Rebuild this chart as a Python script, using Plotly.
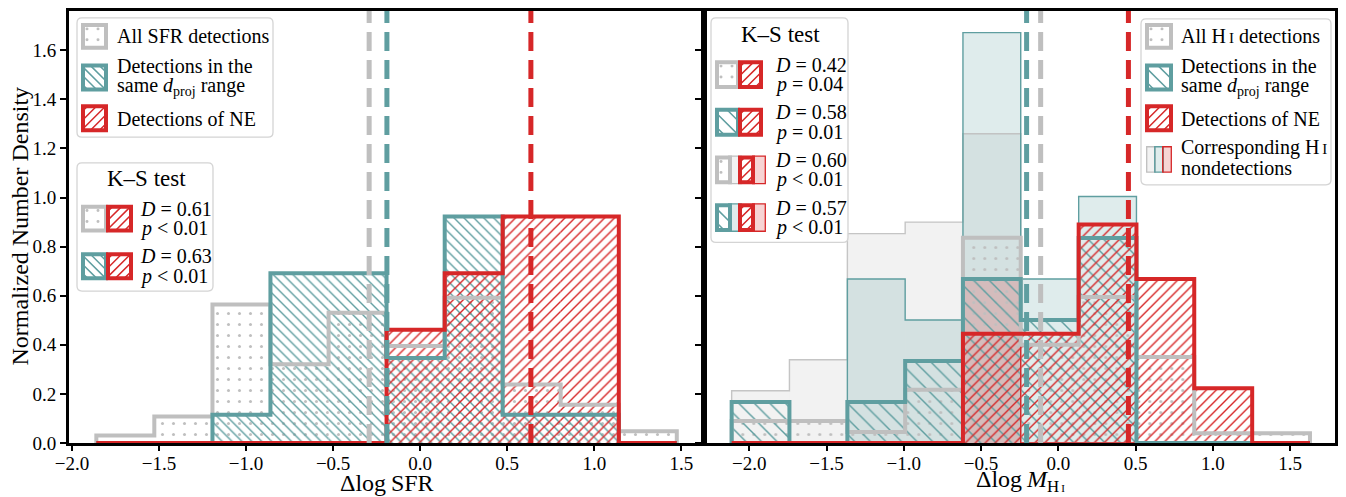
import plotly.graph_objects as go

# ---------------------------------------------------------------- data
sfr_bin_edges = [-1.860, -1.527, -1.193, -0.860, -0.526, -0.193, 0.141, 0.474, 0.807, 1.141, 1.474]
sfr_all_det = [0.031, 0.108, 0.564, 0.321, 0.531, 0.395, 0.592, 0.238, 0.156, 0.048]
sfr_same_det = [0.0, 0.0, 0.115, 0.692, 0.692, 0.346, 0.923, 0.115, 0.115, 0.0]
sfr_ne_det = [0.0, 0.0, 0.0, 0.0, 0.0, 0.461, 0.692, 0.923, 0.923, 0.0]
sfr_medians = [-0.293, -0.191, 0.636]          # all, same d_proj, NE

hi_bin_edges = [-2.114, -1.740, -1.365, -0.991, -0.617, -0.243, 0.132, 0.506, 0.880, 1.255, 1.629]
hi_all_det = [0.090, 0.090, 0.045, 0.217, 0.836, 0.400, 0.595, 0.350, 0.040, 0.040]
hi_same_det = [0.167, 0.0, 0.167, 0.334, 0.668, 0.501, 0.835, 0.0, 0.0, 0.0]
hi_ne_det = [0.0, 0.0, 0.0, 0.0, 0.445, 0.445, 0.890, 0.668, 0.223, 0.0]
hi_all_nondet = [0.213, 0.339, 0.853, 0.900, 1.260, 0.0, 0.0, 0.0, 0.0, 0.0]
hi_same_nondet = [0.0, 0.0, 0.668, 0.501, 1.672, 0.668, 1.004, 0.0, 0.0, 0.0]
hi_ne_nondet = [0.0, 0.0, 0.0, 0.0, 0.668, 0.0, 0.0, 0.0, 0.0, 0.0]
hi_medians = [-0.114, -0.205, 0.454]           # all, same d_proj, NE

ks_sfr_D = ["0.61", "0.63"]
ks_sfr_p = ["&lt; 0.01", "&lt; 0.01"]
ks_hi_D = ["0.42", "0.58", "0.60", "0.57"]
ks_hi_p = ["= 0.04", "= 0.01", "&lt; 0.01", "&lt; 0.01"]

y_tick_vals = [0.0, 0.2, 0.4, 0.6, 0.8, 1.0, 1.2, 1.4, 1.6]
x_tick_vals = [-2.0, -1.5, -1.0, -0.5, 0.0, 0.5, 1.0, 1.5]

# ---------------------------------------------------------------- style
FONT = "Liberation Serif"
GREY, TEAL, RED = "#bfbfbf", "#5f9ea0", "#d62728"


def rgba(h, a):
    h = h.lstrip("#")
    return "rgba(%d,%d,%d,%s)" % (int(h[0:2], 16), int(h[2:4], 16), int(h[4:6], 16), a)


W, H = 1346, 497
PL, PR, PT, PB = 69, 1335, 8, 443
SPLIT = (704.3 - PL) / (PR - PL)
YMAX = 1.76


def P(x, y):
    return (x - PL) / (PR - PL), (PB - y) / (PB - PT)


def fmt(v):
    s = "%.1f" % abs(v)
    return ("\u2212" + s) if v < 0 else s


fig = go.Figure()


def centers_widths(edges):
    c = [(edges[i] + edges[i + 1]) / 2 for i in range(len(edges) - 1)]
    w = [edges[i + 1] - edges[i] for i in range(len(edges) - 1)]
    return c, w


def step_xy(edges, h):
    xs, ys = [edges[0]], [0.0]
    for i, v in enumerate(h):
        xs += [edges[i], edges[i + 1]]
        ys += [v, v]
    xs.append(edges[-1])
    ys.append(0.0)
    return xs, ys


def hatch_bar(edges, h, color, shape, size, sol, xa, ya):
    c, w = centers_widths(edges)
    fig.add_trace(go.Bar(
        x=c, y=h, width=w, xaxis=xa, yaxis=ya, hoverinfo="skip",
        marker=dict(color="rgba(0,0,0,0)", line=dict(width=0),
                    pattern=dict(shape=shape, fgcolor=color, bgcolor="rgba(0,0,0,0)",
                                 fgopacity=1, size=size, solidity=sol, fillmode="overlay"))))


def fill_bar(edges, h, color, xa, ya):
    c, w = centers_widths(edges)
    fig.add_trace(go.Bar(x=c, y=h, width=w, xaxis=xa, yaxis=ya, hoverinfo="skip",
                         marker=dict(color=rgba(color, 0.2), line=dict(width=0))))


def outline(edges, h, color, width, xa, ya):
    xs, ys = step_xy(edges, h)
    fig.add_trace(go.Scatter(x=xs, y=ys, mode="lines", xaxis=xa, yaxis=ya, hoverinfo="skip",
                             line=dict(color=color, width=width)))


# ---- left panel (SFR)
hatch_bar(sfr_bin_edges, sfr_all_det, GREY, ".", 11, 0.06, "x", "y")
hatch_bar(sfr_bin_edges, sfr_same_det, TEAL, "\\", 7, 0.2, "x", "y")
hatch_bar(sfr_bin_edges, sfr_ne_det, RED, "/", 7, 0.2, "x", "y")
# ---- right panel (HI)
fill_bar(hi_bin_edges, hi_all_nondet, GREY, "x2", "y2")
fill_bar(hi_bin_edges, hi_same_nondet, TEAL, "x2", "y2")
fill_bar(hi_bin_edges, hi_ne_nondet, RED, "x2", "y2")
hatch_bar(hi_bin_edges, hi_all_det, GREY, ".", 11, 0.06, "x2", "y2")
hatch_bar(hi_bin_edges, hi_same_det, TEAL, "\\", 11, 0.13, "x2", "y2")
hatch_bar(hi_bin_edges, hi_ne_det, RED, "/", 7, 0.2, "x2", "y2")

outline(sfr_bin_edges, sfr_all_det, GREY, 4, "x", "y")
outline(sfr_bin_edges, sfr_same_det, TEAL, 4, "x", "y")
outline(sfr_bin_edges, sfr_ne_det, RED, 4, "x", "y")
outline(hi_bin_edges, hi_all_nondet, rgba(GREY, 0.9), 1.4, "x2", "y2")
outline(hi_bin_edges, hi_same_nondet, TEAL, 1.4, "x2", "y2")
outline(hi_bin_edges, hi_ne_nondet, RED, 1.4, "x2", "y2")
outline(hi_bin_edges, hi_all_det, GREY, 4, "x2", "y2")
outline(hi_bin_edges, hi_same_det, TEAL, 4, "x2", "y2")
outline(hi_bin_edges, hi_ne_det, RED, 4, "x2", "y2")

shapes = []
# median dashed lines
for med, col in zip(sfr_medians, [GREY, TEAL, RED]):
    shapes.append(dict(type="line", xref="x", yref="y domain", x0=med, x1=med, y0=0, y1=1,
                       line=dict(color=col, width=5, dash="19px,9px"), layer="above"))
for med, col in zip(hi_medians, [GREY, TEAL, RED]):
    shapes.append(dict(type="line", xref="x2", yref="y2 domain", x0=med, x1=med, y0=0, y1=1,
                       line=dict(color=col, width=5, dash="19px,9px"), layer="above"))

annotations = []


def text(x, y, s, size=20, anchor="left"):
    X, Y = P(x, y)
    annotations.append(dict(x=X, y=Y, xref="paper", yref="paper", text=s, showarrow=False,
                            xanchor=anchor, yanchor="middle",
                            font=dict(family=FONT, size=size, color="black")))


def box(x0, y0, x1, y1, r=5):
    pts = [("M", x0 + r, y0), ("L", x1 - r, y0), ("Q", x1, y0, x1, y0 + r), ("L", x1, y1 - r),
           ("Q", x1, y1, x1 - r, y1), ("L", x0 + r, y1), ("Q", x0, y1, x0, y1 - r),
           ("L", x0, y0 + r), ("Q", x0, y0, x0 + r, y0)]
    s = ""
    for p in pts:
        if p[0] == "Q":
            a = P(p[1], p[2]); b = P(p[3], p[4])
            s += "Q%.5f,%.5f %.5f,%.5f" % (a[0], a[1], b[0], b[1])
        else:
            a = P(p[1], p[2])
            s += "%s%.5f,%.5f" % (p[0], a[0], a[1])
    s += "Z"
    shapes.append(dict(type="path", path=s, xref="paper", yref="paper", layer="above",
                       fillcolor="rgba(255,255,255,0.85)", line=dict(color="#d4d4d4", width=1.3)))


def rect(x0, y0, x1, y1, line_col, lw, fill="rgba(0,0,0,0)"):
    a = P(x0, y0); b = P(x1, y1)
    shapes.append(dict(type="rect", xref="paper", yref="paper", x0=a[0], y0=b[1], x1=b[0], y1=a[1],
                       line=dict(color=line_col, width=lw), fillcolor=fill, layer="above"))


def hatch_lines(x0, y0, x1, y1, kind, sp, col):
    segs = []
    if kind == "/":
        c = x0 + y0 + sp / 2
        while c < x1 + y1:
            xa = max(x0, c - y1); xb = min(x1, c - y0)
            if xb > xa:
                segs.append((xa, c - xa, xb, c - xb))
            c += sp
    else:
        c = x0 - y1 + sp / 2
        while c < x1 - y0:
            xa = max(x0, c + y0); xb = min(x1, c + y1)
            if xb > xa:
                segs.append((xa, xa - c, xb, xb - c))
            c += sp
    s = ""
    for (xa, ya, xb, yb) in segs:
        a = P(xa, ya); b = P(xb, yb)
        s += "M%.5f,%.5fL%.5f,%.5f" % (a[0], a[1], b[0], b[1])
    if s:
        shapes.append(dict(type="path", path=s, xref="paper", yref="paper", layer="above",
                           line=dict(color=col, width=1.5)))


def dots(x0, y0, x1, y1, sp, col):
    yy = y0 + 4
    while yy < y1 - 2:
        xx = x0 + 4
        while xx < x1 - 2:
            a = P(xx - 1.5, yy - 1.5); b = P(xx + 1.5, yy + 1.5)
            shapes.append(dict(type="circle", xref="paper", yref="paper", x0=a[0], x1=b[0],
                               y0=b[1], y1=a[1], fillcolor=col, line=dict(width=0), layer="above"))
            xx += sp
        yy += sp


def det_patch(x0, y0, x1, y1, col, kind, sp=9):
    if kind == ".":
        dots(x0 + 2, y0 + 2, x1 - 2, y1 - 2, sp, col)
    else:
        hatch_lines(x0 + 2, y0 + 2, x1 - 2, y1 - 2, kind, sp, col)
    rect(x0 + 2, y0 + 2, x1 - 2, y1 - 2, col, 4)


def nd_patch(x0, y0, x1, y1, col):
    rect(x0 + 0.7, y0 + 0.7, x1 - 0.7, y1 - 0.7, col, 1.3, rgba(col, 0.2))


HI = "H<span style='font-size:15px'>\u2009I</span>"
HI_sub = "H<span style='font-size:11px'>\u2009I</span>"

# ---- left top legend
box(77, 15, 273, 135)
det_patch(81, 20, 108, 47, GREY, ".", 11)
det_patch(81, 61, 108, 89, TEAL, "\\", 9)
det_patch(81, 102, 108, 130, RED, "/", 9)
text(115, 33, "All SFR detections")
text(115, 63, "Detections in the")
text(115, 84, "same <i>d</i><sub>proj</sub> range")
text(115, 117, "Detections of NE")

# ---- left K-S legend
box(77, 161, 213, 290)
text(146, 177, "K\u2013S test", size=23, anchor="center")
for i, (first_col, first_kind) in enumerate([(GREY, "."), (TEAL, "\\")]):
    cy = 217 + 48 * i
    det_patch(81, cy - 14, 108, cy + 14, first_col, first_kind, 11 if first_kind == "." else 9)
    det_patch(106, cy - 14, 133, cy + 14, RED, "/", 9)
    text(138, cy - 10, "<i>D</i> = " + ks_sfr_D[i])
    text(138, cy + 10, "<i>p</i> " + ks_sfr_p[i])

# ---- right top legend
box(1141, 16, 1331, 183)
det_patch(1145, 20, 1173, 47, GREY, ".", 11)
det_patch(1145, 61, 1173, 89, TEAL, "\\", 14)
det_patch(1145, 102, 1173, 130, RED, "/", 9)
nd_patch(1146, 144, 1156, 171, GREY)
nd_patch(1154, 144, 1164, 171, TEAL)
nd_patch(1162, 144, 1172, 171, RED)
text(1179, 33, "All " + HI + " detections")
text(1179, 63, "Detections in the")
text(1179, 84, "same <i>d</i><sub>proj</sub> range")
text(1179, 117, "Detections of NE")
text(1179, 145, "Corresponding " + HI)
text(1179, 166, "nondetections")

# ---- right K-S legend
box(711, 15, 848, 241)
text(780, 32, "K\u2013S test", size=23, anchor="center")
pairs = [(GREY, "."), (TEAL, "\\"), (GREY, "."), (TEAL, "\\")]
for i, (col, kind) in enumerate(pairs):
    cy = 72 + 48 * i
    y0, y1 = cy - 14.5, cy + 14.5
    if i < 2:
        det_patch(715, y0, 740, y1, col, kind, 11 if kind == "." else 14)
        det_patch(738, y0, 763, y1, RED, "/", 9)
    else:
        nd_patch(728, y0, 742, y1, col)
        det_patch(715, y0, 732, y1, col, kind, 11 if kind == "." else 14)
        nd_patch(752, y0, 766, y1, RED)
        det_patch(738, y0, 755, y1, RED, "/", 9)
    text(773, cy - 10, "<i>D</i> = " + ks_hi_D[i])
    text(773, cy + 10, "<i>p</i> " + ks_hi_p[i])

# ---- axis labels
text(387, 483, "\u0394log\u2009SFR", size=24, anchor="center")
text(1020, 481, "\u0394log\u2009<i>M</i><sub>" + HI_sub + "</sub>", size=24, anchor="center")
X, Y = P(20, 225)
annotations.append(dict(x=X, y=Y, xref="paper", yref="paper", text="Normalized Number Density",
                        textangle=-90, showarrow=False, xanchor="center", yanchor="middle",
                        font=dict(family=FONT, size=24, color="black")))

axis_common = dict(showline=True, linecolor="black", linewidth=3, mirror=True, ticks="outside",
                   tickwidth=2, tickcolor="black", showgrid=False, zeroline=False,
                   tickfont=dict(family=FONT, size=19, color="black"))

fig.update_layout(
    width=W, height=H, margin=dict(l=PL, r=W - PR, t=PT, b=H - PB),
    paper_bgcolor="white", plot_bgcolor="white", barmode="overlay", showlegend=False,
    xaxis=dict(domain=[0, SPLIT], range=[-2.017, 1.632], anchor="y", ticklen=5,
               ticklabelstandoff=-4,
               tickvals=x_tick_vals, ticktext=[fmt(v) for v in x_tick_vals], **axis_common),
    xaxis2=dict(domain=[SPLIT, 1], range=[-2.291, 1.791], anchor="y2", ticklen=5,
                ticklabelstandoff=-4,
                tickvals=x_tick_vals, ticktext=[fmt(v) for v in x_tick_vals], **axis_common),
    yaxis=dict(domain=[0, 1], range=[0, YMAX], anchor="x", ticklen=6,
               tickvals=y_tick_vals, ticktext=["%.1f" % v for v in y_tick_vals], **axis_common),
    yaxis2=dict(domain=[0, 1], range=[0, YMAX], anchor="x2", ticklen=6, matches="y",
                tickvals=y_tick_vals, showticklabels=False, **axis_common),
    shapes=shapes, annotations=annotations,
)

fig.write_html("out.html", config={"displayModeBar": False},
               post_script="document.body.style.margin='0px';")
